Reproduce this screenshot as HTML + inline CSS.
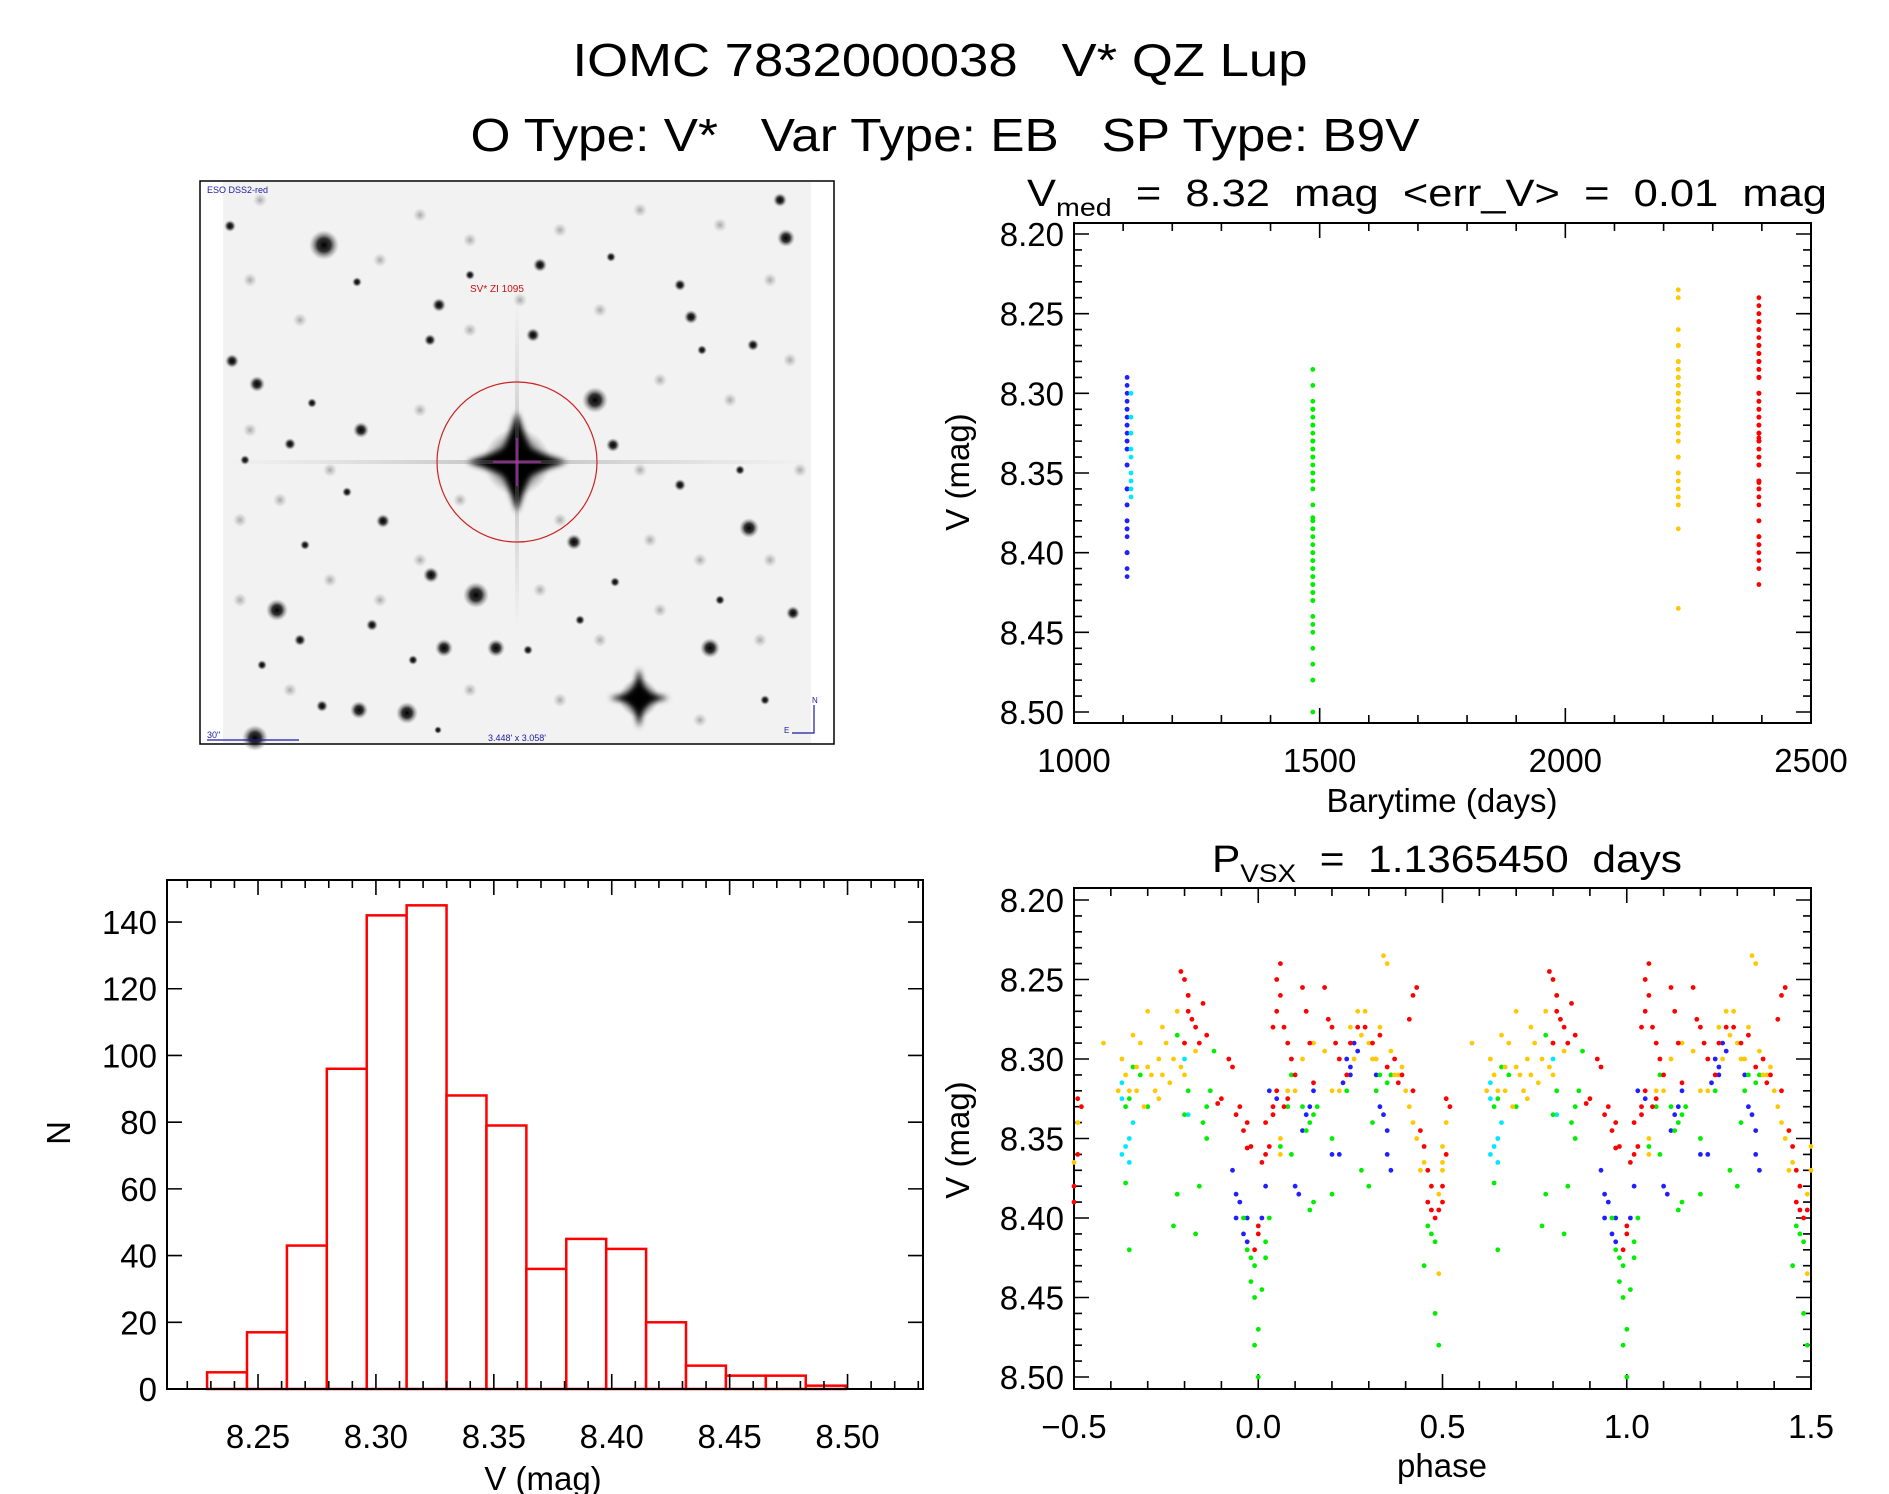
<!DOCTYPE html>
<html><head><meta charset="utf-8"><style>
html,body{margin:0;padding:0;background:#fff}
svg{display:block}
text{font-family:"Liberation Sans",sans-serif;fill:#000;white-space:pre}
</style></head><body>
<svg id="fig" width="1889" height="1494" viewBox="0 0 1889 1494" xmlns="http://www.w3.org/2000/svg" xml:space="preserve">
<defs>
<radialGradient id="starg"><stop offset="0" stop-color="#000" stop-opacity="1"/><stop offset="0.45" stop-color="#111" stop-opacity="0.85"/><stop offset="1" stop-color="#888" stop-opacity="0"/></radialGradient>
<radialGradient id="faintg"><stop offset="0" stop-color="#777" stop-opacity="0.6"/><stop offset="1" stop-color="#999" stop-opacity="0"/></radialGradient>
<linearGradient id="spikeh" x1="0" x2="1" y1="0" y2="0"><stop offset="0" stop-color="#999" stop-opacity="0"/><stop offset="0.5" stop-color="#777" stop-opacity="0.4"/><stop offset="1" stop-color="#999" stop-opacity="0"/></linearGradient>
<linearGradient id="spikev" x1="0" x2="0" y1="0" y2="1"><stop offset="0" stop-color="#999" stop-opacity="0"/><stop offset="0.5" stop-color="#777" stop-opacity="0.4"/><stop offset="1" stop-color="#999" stop-opacity="0"/></linearGradient>
<filter id="blur3"><feGaussianBlur stdDeviation="3"/></filter>
</defs>
<text x="940" y="76" font-size="46" text-anchor="middle" textLength="735" lengthAdjust="spacingAndGlyphs">IOMC 7832000038   V* QZ Lup</text>
<text x="945" y="151" font-size="46" text-anchor="middle" textLength="949" lengthAdjust="spacingAndGlyphs">O Type: V*   Var Type: EB   SP Type: B9V</text>

<g id="skyimg">
<rect x="200" y="181" width="634" height="563" fill="#fff" stroke="#000" stroke-width="1.5"/>
<rect x="223" y="182" width="588" height="561" fill="#f2f2f2"/>
<g id="stars"></g>
<rect x="223" y="460" width="588" height="4" fill="url(#spikeh)"/>
<rect x="515" y="300" width="4" height="330" fill="url(#spikev)"/>
<circle cx="517" cy="462" r="80" fill="none" stroke="#cc2222" stroke-width="1.2"/>
<path d="M493 462h48M517 438v48" stroke="#cc22cc" stroke-width="1.2"/>
<text x="207" y="193" font-size="9" style="fill:#1a1aa0">ESO DSS2-red</text>
<text x="470" y="292" font-size="10" style="fill:#cc1111">SV* ZI 1095</text>
<text x="207" y="738" font-size="9" style="fill:#1a1aa0">30"</text>
<path d="M207 740h92" stroke="#1a1aa0" stroke-width="1.2"/>
<text x="488" y="741" font-size="9" style="fill:#1a1aa0">3.448' x 3.058'</text>
<path d="M792 733h22v-28" stroke="#1a1aa0" stroke-width="1.2" fill="none"/>
<text x="812" y="703" font-size="8" style="fill:#1a1aa0">N</text>
<text x="784" y="733" font-size="8" style="fill:#1a1aa0">E</text>
</g>

<g id="hist"></g>
<g id="lc"></g>
<g id="ph"></g>
</svg>
<script>
// ---------- data ----------
const histBinStart = 8.2284;
const histBinWidth = 0.016925;
const histCounts = [5,17,43,96,142,145,88,79,36,45,42,20,7,4,4,1];

const seasonNames = ['blue','cyan','green','orange','red'];
const seasonColors = ['#2020ff','#00e8ff','#00ee00','#ffc800','#ff0000'];
const seasonTimes = [1108,1116,1486,2230,2394];

const redPhase = [-0.49,-0.48,-0.49,-0.5,-0.5,-0.21,-0.2,-0.19,-0.18,-0.17,-0.15,-0.16,-0.14,-0.19,-0.2,-0.08,-0.07,-0.1,-0.11,-0.05,-0.04,-0.03,-0.06,-0.02,-0.03,0.0,0.0,-0.01,0.01,0.02,0.03,0.02,0.04,0.05,0.05,0.06,0.06,0.05,0.04,0.07,0.08,0.09,0.1,0.12,0.13,0.14,0.18,0.19,0.2,0.21,0.22,0.24,0.25,0.27,0.29,0.31,0.33,0.35,0.37,0.38,0.39,0.42,0.41,0.42,0.43,0.44,0.45,0.46,0.46,0.47,0.48,0.49,0.47,0.08,0.07,0.15,0.04];
const redMag = [8.325,8.33,8.36,8.38,8.39,8.245,8.25,8.26,8.275,8.28,8.265,8.29,8.285,8.27,8.29,8.30,8.305,8.325,8.328,8.33,8.345,8.34,8.335,8.355,8.356,8.405,8.41,8.42,8.365,8.36,8.355,8.34,8.33,8.32,8.25,8.24,8.26,8.27,8.28,8.28,8.29,8.30,8.31,8.255,8.27,8.29,8.255,8.275,8.28,8.29,8.30,8.31,8.29,8.28,8.28,8.29,8.285,8.305,8.30,8.315,8.31,8.32,8.275,8.26,8.255,8.345,8.355,8.37,8.39,8.395,8.40,8.395,8.38,8.325,8.33,8.315,8.335];
const orangePhase = [-0.42,-0.37,-0.36,-0.35,-0.34,-0.33,-0.32,-0.3,-0.29,-0.28,-0.27,-0.26,-0.25,-0.24,-0.23,-0.22,-0.21,-0.2,-0.19,-0.2,-0.31,-0.27,-0.17,-0.3,0.1,0.12,0.15,0.18,0.2,0.22,0.25,0.27,0.28,0.3,0.32,0.34,0.35,0.33,0.36,0.38,0.4,0.41,0.42,0.43,0.45,0.44,0.49,0.5,0.49,0.5,-0.5,-0.49,0.06,0.08,0.06,0.29,-0.38,-0.26,-0.33,0.26,0.31,0.37,0.39];
const orangeMag = [8.29,8.30,8.31,8.32,8.285,8.305,8.29,8.27,8.31,8.32,8.30,8.28,8.29,8.315,8.30,8.27,8.305,8.31,8.26,8.29,8.33,8.325,8.295,8.305,8.32,8.30,8.29,8.295,8.32,8.32,8.28,8.27,8.285,8.29,8.30,8.235,8.24,8.28,8.295,8.31,8.32,8.33,8.34,8.35,8.365,8.37,8.385,8.37,8.435,8.355,8.365,8.34,8.35,8.32,8.36,8.27,8.32,8.31,8.32,8.30,8.30,8.31,8.305];
const bluePhase = [-0.07,-0.06,-0.05,-0.06,-0.04,-0.03,-0.03,0.02,0.03,0.05,0.1,0.11,0.12,0.13,0.14,0.15,0.2,0.22,0.24,0.25,0.26,0.27,0.25,0.23,0.33,0.34,0.35,0.36,0.35,0.32,0.01];
const blueMag = [8.37,8.385,8.39,8.40,8.41,8.415,8.40,8.38,8.32,8.325,8.38,8.385,8.345,8.335,8.33,8.32,8.36,8.36,8.30,8.305,8.29,8.295,8.31,8.315,8.33,8.335,8.36,8.37,8.345,8.31,8.40];
const cyanPhase = [-0.37,-0.37,-0.37,-0.36,-0.35,-0.35,-0.34,-0.2,-0.19];
const cyanMag = [8.315,8.325,8.36,8.355,8.35,8.365,8.34,8.30,8.335];
const greenPhase = [-0.36,-0.35,-0.36,-0.35,-0.34,-0.32,-0.3,-0.22,-0.22,-0.23,-0.2,-0.19,-0.16,-0.15,-0.14,-0.14,-0.13,-0.12,-0.17,-0.04,-0.03,-0.02,-0.01,-0.02,-0.01,0.0,-0.01,0.0,0.01,0.02,0.02,0.03,0.06,0.08,0.09,0.12,0.13,0.14,0.15,0.16,0.14,0.15,0.2,0.2,0.24,0.28,0.3,0.31,0.32,0.33,0.35,0.36,0.46,0.47,0.45,0.48,0.48,0.49,0.09];
const greenMag = [8.33,8.325,8.378,8.42,8.305,8.31,8.33,8.285,8.385,8.405,8.335,8.32,8.38,8.34,8.33,8.35,8.32,8.295,8.41,8.40,8.42,8.425,8.43,8.44,8.45,8.47,8.48,8.50,8.445,8.425,8.415,8.40,8.355,8.33,8.36,8.33,8.345,8.34,8.335,8.33,8.395,8.39,8.35,8.385,8.32,8.37,8.38,8.34,8.32,8.31,8.315,8.31,8.405,8.41,8.43,8.415,8.46,8.48,8.31];

const histXTicks = ['8.25','8.30','8.35','8.40','8.45','8.50'];
const histYTicks = ['0','20','40','60','80','100','120','140'];
const magTicks = ['8.20','8.25','8.30','8.35','8.40','8.45','8.50'];
const timeTicks = ['1000','1500','2000','2500'];
const phaseTicks = ['\u22120.5','0.0','0.5','1.0','1.5'];

// ---------- helpers ----------
const NS='http://www.w3.org/2000/svg';
function mk(parent,tag,attrs){const e=document.createElementNS(NS,tag);for(const k in attrs)e.setAttribute(k,attrs[k]);parent.appendChild(e);return e;}
function lin(d0,d1,r0,r1){return v=>r0+(v-d0)/(d1-d0)*(r1-r0);}
function num(s){return parseFloat(s.replace('\u2212','-'));}

function axes(g,box,xs,ys,o){
  const fr=mk(g,'rect',{x:box.l,y:box.t,width:box.r-box.l,height:box.b-box.t,fill:'none',stroke:'#000','stroke-width':2});
  
  
  let p='';
  for(let v=o.xmin0;v<=o.xmax0+1e-9;v+=o.xminor){const x=xs(v);const maj=Math.abs(Math.round(v/o.xmajor)*o.xmajor-v)<o.xminor/10;const L=maj?15:8;p+=`M${x} ${box.b}v${-L}M${x} ${box.t}v${L}`;}
  for(let v=o.ymin0;v<=o.ymax0+1e-9;v+=o.yminor){const y=ys(v);const maj=Math.abs(Math.round(v/o.ymajor)*o.ymajor-v)<o.yminor/10;const L=maj?15:8;p+=`M${box.l} ${y}h${L}M${box.r} ${y}h${-L}`;}
  const tk=mk(g,'path',{d:p,stroke:'#000','stroke-width':1.6,fill:'none'});
  
  
}
function label(g,x,y,txt,size,anchor,name,rot){
  const t=mk(g,'text',{x:x,y:y,'font-size':size,'text-anchor':anchor||'middle'});
  if(rot)t.setAttribute('transform',`rotate(-90 ${x} ${y})`);
  t.textContent=txt;
  
  
  return t;
}
function dot(g,x,y,c){
  const d=mk(g,'circle',{cx:x.toFixed(1),cy:y.toFixed(1),r:2.4,fill:c});
  
  
}

// ---------- sky image stars ----------
const starList=[[324,245,15],[595,400,13],[476,595,13],[277,610,11],[639,698,20],[407,713,11],[359,710,9],[749,528,10],[710,648,10],[444,648,9],[496,648,9],[786,238,9],[780,200,7],[540,265,7],[439,305,7],[533,335,7],[257,384,8],[361,430,8],[232,361,7],[613,445,7],[574,542,8],[383,521,7],[431,575,8],[372,625,6],[793,613,7],[691,317,7],[255,738,13],[230,226,6],[357,282,5],[470,275,5],[680,285,6],[702,350,5],[611,257,5],[430,340,6],[312,403,5],[290,444,6],[245,460,5],[680,485,6],[740,470,5],[347,492,5],[615,582,5],[720,600,5],[300,640,6],[262,665,5],[413,660,5],[322,706,6],[580,620,5],[765,700,5],[438,730,4],[528,650,5],[753,345,6],[305,545,5]];
const faintList=[[260,200],[420,215],[470,240],[560,230],[640,210],[720,225],[770,280],[250,280],[300,320],[380,260],[470,330],[520,300],[600,310],[660,380],[730,400],[790,360],[240,520],[280,500],[330,470],[420,410],[460,500],[560,520],[650,540],[700,560],[770,560],[800,470],[330,580],[380,600],[540,590],[600,640],[660,610],[760,640],[290,690],[470,690],[560,700],[700,720],[240,600],[250,430],[640,470],[420,560]];
const sg=document.getElementById('stars');
faintList.forEach(s=>{const c=mk(sg,'circle',{cx:s[0],cy:s[1],r:7,fill:'url(#faintg)'});});
starList.forEach(s=>{const c=mk(sg,'circle',{cx:s[0],cy:s[1],r:s[2],fill:'url(#starg)'});});
const core=mk(sg,'circle',{cx:517,cy:462,r:34,fill:'url(#starg)'});


const diam=mk(sg,'path',{d:'M517 412L530 449L567 462L530 475L517 512L504 475L467 462L504 449Z',fill:'#000',filter:'url(#blur3)'});


const cross2=mk(sg,'path',{d:'M639 668L645 692L669 698L645 704L639 728L633 704L609 698L633 692Z',fill:'#000',filter:'url(#blur3)'});



// ---------- histogram ----------
(function(){
  const g=document.getElementById('hist');
  const box={l:167,r:923,t:880,b:1389};
  const xs=lin(8.2114,8.532,box.l,box.r), ys=lin(0,152.6,box.b,box.t);
  histCounts.forEach((n,i)=>{
    const x0=xs(histBinStart+i*histBinWidth), x1=xs(histBinStart+(i+1)*histBinWidth);
    const r=mk(g,'rect',{x:x0,y:ys(n),width:x1-x0,height:ys(0)-ys(n),fill:'#fff',stroke:'#ff0000','stroke-width':2.5});
    
    
  });
  axes(g,box,xs,ys,{xmin0:8.22,xmax0:8.53,xminor:0.01,xmajor:0.05,ymin0:0,ymax0:140,yminor:20,ymajor:20});
  histXTicks.forEach(t=>label(g,xs(num(t)),1448,t,33,'middle','x-tick-label'));
  histYTicks.forEach(t=>label(g,157,ys(num(t))+12,t,33,'end','y-tick-label'));
  label(g,543,1490,'V (mag)',33,'middle','x-axis-title');
  label(g,70,1133,'N',33,'middle','y-axis-title',true);
})();

// ---------- light curve vs time ----------
const groupsPhase=[[bluePhase,blueMag],[cyanPhase,cyanMag],[greenPhase,greenMag],[orangePhase,orangeMag],[redPhase,redMag]];
(function(){
  const g=document.getElementById('lc');
  const box={l:1074,r:1811,t:223,b:723};
  const xs=lin(1000,2500,box.l,box.r), ys=lin(8.20,8.50,234,712);
  axes(g,box,xs,ys,{xmin0:1000,xmax0:2500,xminor:100,xmajor:500,ymin0:8.20,ymax0:8.50,yminor:0.01,ymajor:0.05});
  groupsPhase.forEach((gr,i)=>{gr[1].forEach(m=>dot(g,xs(seasonTimes[i]),ys(m),seasonColors[i]));});
  magTicks.forEach(t=>label(g,1064,ys(num(t))+12,t,33,'end','y-tick-label'));
  timeTicks.forEach(t=>label(g,xs(num(t)),772,t,33,'middle','x-tick-label'));
  label(g,1442,812,'Barytime (days)',33,'middle','x-axis-title');
  label(g,969,472,'V (mag)',33,'middle','y-axis-title',true);
  const t=label(g,1027,206,'',38,'start','lightcurve-title');
  t.setAttribute('textLength','800');
  t.setAttribute('lengthAdjust','spacingAndGlyphs');
  t.innerHTML='V<tspan font-size="25" dy="10">med</tspan><tspan dy="-10">  =  8.32  mag  &lt;err_V&gt;  =  0.01  mag</tspan>';
})();

// ---------- phase plot ----------
(function(){
  const g=document.getElementById('ph');
  const box={l:1074,r:1811,t:888,b:1389};
  const xs=lin(-0.5,1.5,box.l,box.r), ys=lin(8.20,8.50,900,1377);
  axes(g,box,xs,ys,{xmin0:-0.5,xmax0:1.5,xminor:0.1,xmajor:0.5,ymin0:8.20,ymax0:8.50,yminor:0.01,ymajor:0.05});
  groupsPhase.forEach((gr,i)=>{gr[0].forEach((p,k)=>{dot(g,xs(p),ys(gr[1][k]),seasonColors[i]);dot(g,xs(p+1),ys(gr[1][k]),seasonColors[i]);});});
  magTicks.forEach(t=>label(g,1064,ys(num(t))+12,t,33,'end','y-tick-label'));
  phaseTicks.forEach(t=>label(g,xs(num(t)),1438,t,33,'middle','x-tick-label'));
  label(g,1442,1477,'phase',33,'middle','x-axis-title');
  label(g,969,1140,'V (mag)',33,'middle','y-axis-title',true);
  const t=label(g,1212,872,'',38,'start','phase-title');
  t.setAttribute('textLength','470');
  t.setAttribute('lengthAdjust','spacingAndGlyphs');
  t.innerHTML='P<tspan font-size="25" dy="10">VSX</tspan><tspan dy="-10">  =  1.1365450  days</tspan>';
})();
</script>
</body></html>
